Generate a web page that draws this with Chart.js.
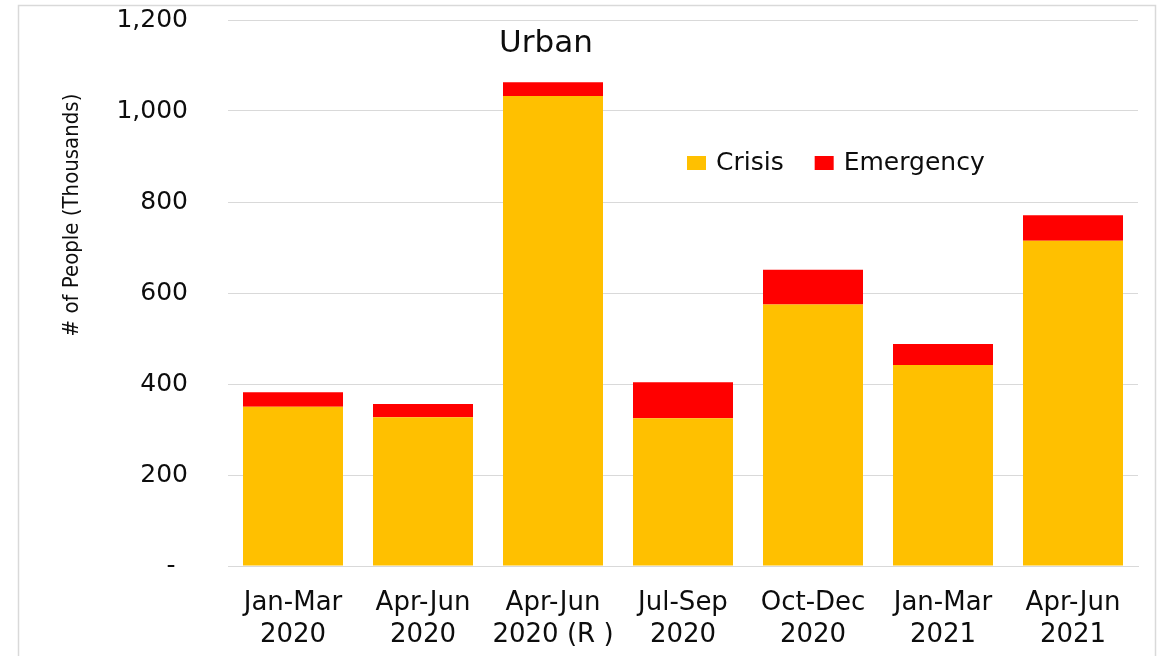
<!DOCTYPE html>
<html>
<head>
<meta charset="utf-8">
<script src="https://cdn.jsdelivr.net/npm/chart.js@4/dist/chart.umd.min.js"></script>
<style>
  body { margin: 0; background: #fff; }
  #urbanChart { display: block; }
</style>
</head>
<body>
<canvas id="urbanChart" width="1168" height="656"></canvas>
<script>
// quarters shown on the x axis (two-line labels)
var quarters = [
    ['Jan-Mar', '2020'],
    ['Apr-Jun', '2020'],
    ['Apr-Jun', '2020 (R )'],
    ['Jul-Sep', '2020'],
    ['Oct-Dec', '2020'],
    ['Jan-Mar', '2021'],
    ['Apr-Jun', '2021']
];
// people in thousands
var crisis    = [350, 327, 1033, 325, 575, 442, 715];
var emergency = [32, 29, 30, 79, 76, 46, 56];
var yTicks = [0, 200, 400, 600, 800, 1000, 1200];

var FONT = "'DejaVu Sans', sans-serif";
var INK = '#0d0d0d';

// frame, title, y title and the legend are painted by hand
var decorations = {
    id: 'decorations',
    beforeDraw: function(chart) {
        var ctx = chart.ctx;
        ctx.save();
        ctx.strokeStyle = '#d9d9d9';
        ctx.lineWidth = 1.5;
        ctx.strokeRect(18.5, 5.5, 1137, 700);
        ctx.restore();
    },
    afterDraw: function(chart) {
        var ctx = chart.ctx;
        var area = chart.chartArea;
        ctx.save();
        ctx.fillStyle = INK;

        // chart title
        ctx.font = '31px ' + FONT;
        ctx.textAlign = 'center';
        ctx.textBaseline = 'middle';
        ctx.fillText('Urban', area.left + 318, area.top + 24);

        // y axis title
        ctx.save();
        ctx.translate(72, area.top + 195);
        ctx.rotate(-Math.PI / 2);
        ctx.font = "22px 'DejaVu Sans Condensed', " + FONT;
        ctx.fillText('# of People (Thousands)', 0, 0);
        ctx.restore();

        // legend
        ctx.font = '25px ' + FONT;
        ctx.textAlign = 'left';
        var x = area.left + 459;
        var y = area.top + 143;
        chart.data.datasets.forEach(function(ds) {
            ctx.fillStyle = ds.backgroundColor;
            ctx.fillRect(x, y - 7, 19, 14);
            ctx.fillStyle = INK;
            ctx.fillText(ds.label, x + 29, y);
            x += 29 + ctx.measureText(ds.label).width + 31;
        });
        ctx.restore();
    }
};

var ctx = document.getElementById('urbanChart').getContext('2d');
var urbanChart = new Chart(ctx, {
    type: 'bar',
    data: {
        labels: quarters,
        datasets: [{
            label: 'Crisis',
            data: crisis,
            backgroundColor: '#FFC000',
            borderWidth: 0
        }, {
            label: 'Emergency',
            data: emergency,
            backgroundColor: '#FF0000',
            borderWidth: 0
        }]
    },
    options: {
        responsive: false,
        animation: false,
        layout: {
            padding: { top: 20, right: 30, left: 0, bottom: 0 }
        },
        datasets: {
            bar: {
                barPercentage: 1,
                categoryPercentage: 100 / 130
            }
        },
        plugins: {
            legend: { display: false },
            title: { display: false },
            tooltip: { enabled: false }
        },
        scales: {
            x: {
                stacked: true,
                grid: { display: false },
                border: { display: true, color: '#d9d9d9', width: 1 },
                ticks: {
                    color: INK,
                    maxRotation: 0,
                    autoSkip: false,
                    padding: 14,
                    font: { family: FONT, size: 26, lineHeight: 1.2 }
                },
                afterFit: function(scale) { scale.height = 90; }
            },
            y: {
                stacked: true,
                min: 0,
                max: 1200,
                afterBuildTicks: function(scale) {
                    scale.ticks = yTicks.map(function(v) { return { value: v }; });
                },
                // invisible tick marks keep the labels away from the plot
                grid: {
                    color: '#d9d9d9',
                    lineWidth: 1,
                    drawTicks: true,
                    tickLength: 40,
                    tickColor: 'rgba(0,0,0,0)'
                },
                border: { display: false },
                ticks: {
                    color: INK,
                    padding: 0,
                    font: { family: FONT, size: 25 },
                    callback: function(value) {
                        return value === 0 ? '-\u2002' : value.toLocaleString('en-US');
                    }
                },
                afterFit: function(scale) { scale.width = 228; }
            }
        }
    },
    plugins: [decorations]
});
</script>
</body>
</html>
